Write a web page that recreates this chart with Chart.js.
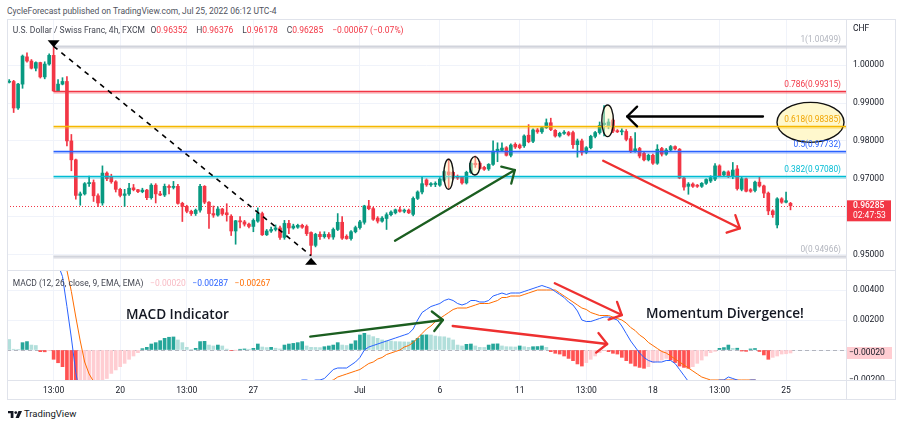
<!DOCTYPE html>
<html><head><meta charset="utf-8">
<script src="https://cdn.jsdelivr.net/npm/chart.js@4.4.1/dist/chart.umd.min.js"></script>
<style>
html,body{margin:0;padding:0;background:#fff;}
body{width:904px;height:426px;position:relative;overflow:hidden;font-family:Roboto,"Noto Sans",sans-serif;color:#131722;}
.abs{position:absolute;white-space:nowrap;line-height:1;}
.ui{font-size:8.5px;}
.r{color:#f23645;}
.g{margin-left:5.5px;}
.g2{margin-left:9px;}
.g3{margin-left:6.5px;}
.ln{position:absolute;background:#e0e3eb;}
canvas{position:absolute;}
.note{position:absolute;white-space:nowrap;font-family:"Open Sans",sans-serif;font-size:13.6px;font-weight:600;line-height:18px;color:#131722;}
</style></head>
<body>
<canvas id="main" width="889" height="251" style="left:7px;top:19px;width:889px;height:251px"></canvas>
<canvas id="macd" width="889" height="129" style="left:7px;top:271px;width:889px;height:129px"></canvas>

<div class="abs ui" style="left:7px;top:6.5px;color:#50535e">CycleForecast published on TradingView.com, Jul 25, 2022 06:12 UTC-4</div>
<div class="abs ui" style="left:12.7px;top:25.5px;color:#434651">U.S. Dollar / Swiss Franc, 4h, FXCM<span class="g">O</span><span class="r">0.96352</span><span class="g2">H</span><span class="r">0.96376</span><span class="g2">L</span><span class="r">0.96178</span><span class="g2">C</span><span class="r">0.96285</span><span class="g2 r">−0.00067 (−0.07%)</span></div>
<div class="abs ui" style="left:853px;top:23.5px">CHF</div>

<div class="abs ui" style="left:12.7px;top:278.5px;color:#434651">MACD (12, 26, close, 9, EMA, EMA)<span class="g3" style="color:#f8bbc4">−0.00020</span><span class="g3" style="color:#2962ff">−0.00287</span><span class="g3" style="color:#ff6d00">−0.00267</span></div>

<div class="note" style="left:126px;top:305px">MACD Indicator</div>
<div class="note" style="left:646px;top:303.5px">Momentum Divergence!</div>

<div class="ln" style="left:7px;top:19px;width:889px;height:1px"></div>
<div class="ln" style="left:7px;top:19px;width:1px;height:381px"></div>
<div class="ln" style="left:895px;top:19px;width:1px;height:381px"></div>
<div class="ln" style="left:7px;top:399px;width:889px;height:1px"></div>
<div class="ln" style="left:846px;top:19px;width:1px;height:381px"></div>
<div class="ln" style="left:7px;top:270px;width:889px;height:1px"></div>
<div class="ln" style="left:7px;top:380px;width:889px;height:1px"></div>

<svg width="14" height="7" viewBox="0 0 36 18" style="position:absolute;left:7.5px;top:410.5px"><path d="M14 0H0v6h7v12h7z" fill="#131722"/><circle cx="20" cy="4" r="3.6" fill="#131722"/><path d="M27 0h9l-8 18h-8.5z" fill="#131722"/></svg>
<div class="abs" style="left:24px;top:409px;font-size:9.5px;color:#131722">TradingView</div>

<script>
// ---------------- DATA ----------------
const slotCount = 189;
const xTickIndex  = [10, 25, 40, 55, 79, 97, 115, 130, 145, 160, 175];
const xTickLabels = ['13:00','20','13:00','27','Jul','6','11','13:00','18','13:00','25'];

const opens = [0.9955,0.9957,0.9887,0.9950,1.0022,1.0011,0.9992,1.0007,0.9969,1.0003,
 1.0026,0.9932,0.9950,0.9957,0.9800,0.9750,0.9656,0.9660,0.9687,0.9690,
 0.9655,0.9636,0.9715,0.9705,0.9692,0.9672,0.9656,0.9660,0.9676,0.9671,
 0.9666,0.9670,0.9650,0.9683,0.9660,0.9657,0.9680,0.9677,0.9680,0.9635,
 0.9627,0.9614,0.9608,0.9617,0.9680,0.9638,0.9608,0.9604,0.9620,0.9610,
 0.9601,0.9562,0.9589,0.9586,0.9580,0.9574,0.9588,0.9608,0.9552,0.9562,
 0.9566,0.9570,0.9545,0.9582,0.9570,0.9572,0.9577,0.9574,0.9558,0.9524,
 0.9553,0.9547,0.9553,0.9546,0.9566,0.9585,0.9548,0.9542,0.9560,0.9571,
 0.9585,0.9628,0.9621,0.9596,0.9588,0.9595,0.9605,0.9610,0.9618,0.9614,
 0.9617,0.9606,0.9648,0.9665,0.9697,0.9684,0.9685,0.9683,0.9696,0.9718,
 0.9717,0.9706,0.9704,0.9689,0.9717,0.9741,0.9741,0.9730,0.9726,0.9738,
 0.9773,0.9775,0.9782,0.9762,0.9791,0.9789,0.9787,0.9815,0.9799,0.9829,
 0.9824,0.9835,0.9848,0.9828,0.9813,0.9820,0.9822,0.9822,0.9790,0.9800,
 0.9770,0.9782,0.9812,0.9822,0.9843,0.9840,0.9855,0.9827,0.9824,0.9825,
 0.9806,0.9774,0.9780,0.9767,0.9750,0.9762,0.9741,0.9780,0.9765,0.9776,
 0.9785,0.9778,0.9702,0.9680,0.9686,0.9683,0.9680,0.9688,0.9694,0.9699,
 0.9734,0.9710,0.9718,0.9706,0.9726,0.9672,0.9700,0.9671,0.9669,0.9691,
 0.9681,0.9662,0.9615,0.9578,0.9647,0.9638,0.96352];
const highs = [0.9962,0.9960,0.9952,1.0027,1.0033,1.0015,1.0009,1.0008,1.0009,1.0030,
 1.00499,0.9962,0.9967,0.9970,0.9817,0.9752,0.9665,0.9690,0.9707,0.9697,
 0.9660,0.9734,0.9718,0.9712,0.9695,0.9675,0.9672,0.9688,0.9685,0.9672,
 0.9675,0.9672,0.9687,0.9687,0.9667,0.9686,0.9684,0.9693,0.9685,0.9638,
 0.9630,0.9617,0.9620,0.9685,0.9682,0.9640,0.9628,0.9626,0.9622,0.9634,
 0.9605,0.9590,0.9600,0.9590,0.9583,0.9594,0.9623,0.9612,0.9566,0.9572,
 0.9578,0.9575,0.9590,0.9590,0.9580,0.9580,0.9580,0.9578,0.9560,0.9556,
 0.9560,0.9560,0.9558,0.9570,0.9608,0.9600,0.9552,0.9563,0.9575,0.9590,
 0.9630,0.9643,0.9625,0.9600,0.9600,0.9610,0.9615,0.9620,0.9625,0.9620,
 0.9620,0.9652,0.9668,0.9704,0.9700,0.9690,0.9692,0.9703,0.9723,0.9752,
 0.9720,0.9710,0.9706,0.9720,0.9744,0.9760,0.9745,0.9733,0.9740,0.9800,
 0.9795,0.9795,0.9785,0.9792,0.9795,0.9792,0.9816,0.9843,0.9832,0.9833,
 0.9838,0.9858,0.9860,0.9830,0.9823,0.9827,0.9825,0.9826,0.9805,0.9805,
 0.9785,0.9815,0.9825,0.9850,0.9893,0.9858,0.9858,0.9830,0.9832,0.9830,
 0.9812,0.9822,0.9783,0.9770,0.9765,0.9765,0.9790,0.9783,0.9780,0.9788,
 0.9787,0.9780,0.9705,0.9690,0.9689,0.9685,0.9690,0.9700,0.9708,0.9740,
 0.9737,0.9720,0.9721,0.9743,0.9735,0.9705,0.9702,0.9674,0.9694,0.9704,
 0.9683,0.9665,0.9618,0.9650,0.9650,0.9665,0.96376];
const lows = [0.9953,0.9875,0.9883,0.9939,1.0008,0.9990,0.9985,0.9966,0.9964,1.0000,
 0.9931,0.9930,0.9948,0.9787,0.9721,0.9646,0.9630,0.9657,0.9680,0.9640,
 0.9626,0.9630,0.9695,0.9688,0.9665,0.9652,0.9627,0.9656,0.9668,0.9663,
 0.9663,0.9645,0.9646,0.9636,0.9655,0.9653,0.9660,0.9673,0.9633,0.9587,
 0.9610,0.9603,0.9603,0.9612,0.9634,0.9569,0.9598,0.9601,0.9603,0.9588,
 0.9550,0.9527,0.9570,0.9575,0.9570,0.9560,0.9585,0.9550,0.9550,0.9558,
 0.9562,0.9540,0.9540,0.9555,0.9567,0.9569,0.9569,0.9550,0.94966,0.9520,
 0.9540,0.9543,0.9541,0.9540,0.9563,0.9540,0.9540,0.9538,0.9557,0.9567,
 0.9580,0.9618,0.9590,0.9583,0.9585,0.9566,0.9602,0.9607,0.9612,0.9610,
 0.9608,0.9602,0.9645,0.9660,0.9680,0.9680,0.9679,0.9680,0.9692,0.9675,
 0.9698,0.9698,0.9686,0.9686,0.9714,0.9730,0.9725,0.9722,0.9722,0.9735,
 0.9745,0.9772,0.9760,0.9758,0.9780,0.9779,0.9783,0.9795,0.9795,0.9820,
 0.9820,0.9833,0.9827,0.9810,0.9810,0.9817,0.9813,0.9780,0.9757,0.9762,
 0.9766,0.9779,0.9808,0.9818,0.9813,0.9832,0.9822,0.9822,0.9816,0.9800,
 0.9769,0.9770,0.9755,0.9747,0.9747,0.9738,0.9738,0.9760,0.9762,0.9772,
 0.9776,0.9700,0.9670,0.9659,0.9677,0.9677,0.9677,0.9685,0.9690,0.9695,
 0.9705,0.9706,0.9703,0.9700,0.9670,0.9668,0.9665,0.9664,0.9665,0.9678,
 0.9650,0.9605,0.9598,0.9570,0.9635,0.9636,0.96178];
const closes = [0.9957,0.9887,0.9950,1.0024,1.0011,0.9992,1.0007,0.9969,1.0003,1.0026,
 0.9932,0.9950,0.9957,0.9800,0.9750,0.9656,0.9660,0.9687,0.9690,0.9655,
 0.9636,0.9715,0.9700,0.9692,0.9672,0.9656,0.9660,0.9675,0.9671,0.9666,
 0.9670,0.9650,0.9683,0.9660,0.9657,0.9680,0.9677,0.9680,0.9635,0.9627,
 0.9614,0.9608,0.9617,0.9680,0.9638,0.9608,0.9604,0.9620,0.9607,0.9605,
 0.9562,0.9589,0.9586,0.9580,0.9574,0.9590,0.9608,0.9552,0.9562,0.9566,
 0.9570,0.9545,0.9582,0.9570,0.9575,0.9577,0.9572,0.9555,0.9524,0.9553,
 0.9547,0.9553,0.9546,0.9566,0.9585,0.9543,0.9542,0.9560,0.9571,0.9586,
 0.9628,0.9621,0.9593,0.9588,0.9596,0.9605,0.9612,0.9618,0.9614,0.9617,
 0.9610,0.9648,0.9665,0.9687,0.9684,0.9687,0.9688,0.9699,0.9719,0.9711,
 0.9702,0.9702,0.9689,0.9717,0.9741,0.9737,0.9727,0.9725,0.9738,0.9773,
 0.9778,0.9781,0.9762,0.9789,0.9784,0.9782,0.9813,0.9798,0.9829,0.9824,
 0.9835,0.9848,0.9830,0.9813,0.9820,0.9823,0.9816,0.9790,0.9800,0.9770,
 0.9782,0.9812,0.9822,0.9841,0.9847,0.9850,0.9826,0.9824,0.9826,0.9804,
 0.9774,0.9779,0.9760,0.9750,0.9762,0.9741,0.9778,0.9765,0.9776,0.9785,
 0.9779,0.9702,0.9678,0.9686,0.9680,0.9680,0.9688,0.9698,0.9703,0.9734,
 0.9708,0.9718,0.9706,0.9723,0.9674,0.9700,0.9667,0.9667,0.9691,0.9681,
 0.9662,0.9615,0.9605,0.9647,0.9638,0.9642,0.96285];

const histogram = [0.00070,0.00005,0.00004,0.00049,0.00056,0.00033,0.00030,-0.00011,-0.00012,-0.00005,
 -0.00062,-0.00085,-0.00111,-0.0022,-0.0030,-0.0034,-0.0033,-0.0031,-0.0028,-0.0025,
 -0.0022,-0.0020,-0.0019,-0.00156,-0.00133,-0.00111,-0.00089,-0.00062,-0.0004,-0.00018,
 0.00009,0.00018,0.0004,0.00049,0.00062,0.00078,0.00085,0.00087,0.00067,0.00049,
 0.00018,0.00004,0.00011,0.00056,0.00058,0.00033,0.00027,0.00033,0.00027,0.00006,
 -0.00004,-0.00001,0.00005,0.00007,0.00005,0.00011,0.0004,0.0002,0.00016,0.00018,
 0.00012,0.00007,0.00033,0.0004,0.00044,0.00049,0.00056,0.00027,0.00018,0.00017,
 0.00016,0.00022,0.00027,0.00033,0.00049,0.00033,0.0003,0.0004,0.00062,0.001,
 0.00111,0.001,0.00089,0.00078,0.00067,0.00062,0.0006,0.00056,0.00055,0.00054,
 0.00053,0.00062,0.00078,0.001,0.00101,0.001,0.00093,0.00089,0.00088,0.0008,
 0.00067,0.00033,0.00027,0.00038,0.0004,0.00027,0.00018,0.00017,0.00033,0.0004,
 0.00041,0.00027,0.00022,0.00021,0.0002,0.00027,0.00022,0.00018,0.00022,0.00023,
 0.00027,0.00018,-0.00011,-0.00022,-0.00027,-0.0004,-0.00056,-0.00071,-0.00093,-0.00107,
 -0.00084,-0.00062,-0.0004,-0.00018,-0.00004,-0.00011,-0.00022,-0.00027,-0.00049,-0.00071,
 -0.00089,-0.00107,-0.00116,-0.00122,-0.00111,-0.00084,-0.00078,-0.00067,-0.00056,-0.00067,
 -0.00084,-0.00107,-0.00116,-0.00122,-0.00111,-0.00089,-0.00067,-0.0004,-0.00018,-0.00009,
 0.00011,0.00016,0.00033,0.00011,0.00012,-0.00007,-0.00009,0.00007,0.0001,-0.0001,
 -0.00033,-0.00062,-0.00049,-0.0004,-0.00027,-0.00025,-0.0002];
const macdLine = [0.0075,0.0071,0.0070,0.0074,0.0076,0.0074,0.0073,0.0068,0.0067,0.0069,
 0.0063,0.0057,0.0049,0.0029,0.0008,-0.0015,-0.0031,-0.0042,-0.0050,-0.0057,
 -0.0063,-0.0066,-0.0069,-0.0069,-0.0069,-0.0069,-0.0068,-0.0066,-0.0064,-0.0062,
 -0.0059,-0.0057,-0.0053,-0.0050,-0.0047,-0.0044,-0.0042,-0.0040,-0.0040,-0.0041,
 -0.0043,-0.0044,-0.0043,-0.0038,-0.0037,-0.0038,-0.0038,-0.0036,-0.0036,-0.0037,
 -0.0040,-0.0040,-0.0039,-0.0039,-0.0039,-0.0038,-0.0035,-0.0036,-0.0036,-0.0035,
 -0.0030,-0.0028,-0.0025,-0.0023,-0.0022,-0.0021,-0.0020,-0.0020,-0.0021,-0.0020,
 -0.0020,-0.0019,-0.0016,-0.0013,-0.0012,-0.0012,-0.0012,-0.0010,-0.0008,-0.0005,
 0.0000,0.0002,0.0003,0.0004,0.0005,0.0006,0.0007,0.0008,0.0009,0.0010,
 0.0011,0.0014,0.0020,0.0025,0.0027,0.0029,0.0030,0.0031,0.0033,0.0034,
 0.0033,0.0031,0.0030,0.0031,0.0033,0.0033,0.0032,0.0032,0.0033,0.0036,
 0.0037,0.0038,0.0037,0.0038,0.0038,0.0038,0.0039,0.0040,0.0041,0.0042,
 0.0043,0.0042,0.0041,0.0039,0.0037,0.0035,0.0032,0.0030,0.0026,0.0020,
 0.0019,0.0019,0.0020,0.0021,0.0022,0.0022,0.0021,0.0020,0.0016,0.0011,
 0.0006,0.0002,-0.0002,-0.0005,-0.0007,-0.0008,-0.0008,-0.0008,-0.0007,-0.0007,
 -0.0009,-0.0013,-0.0017,-0.0021,-0.0025,-0.0025,-0.0024,-0.0023,-0.0022,-0.0021,
 -0.0020,-0.0020,-0.0018,-0.0019,-0.0020,-0.0021,-0.0021,-0.0020,-0.0020,-0.0021,
 -0.0023,-0.0027,-0.0029,-0.0029,-0.0029,-0.0029,-0.00287];
const signalLine = [0.0068,0.0068,0.0069,0.0069,0.0070,0.0071,0.0070,0.0069,0.0069,0.0068,
 0.0067,0.0064,0.0060,0.0053,0.0039,0.0022,0.0006,-0.0008,-0.0016,-0.0021,
 -0.0030,-0.0037,-0.0044,-0.0050,-0.0054,-0.0057,-0.0059,-0.0060,-0.0060,-0.0060,
 -0.0060,-0.0059,-0.0057,-0.0055,-0.0053,-0.0052,-0.0050,-0.0049,-0.0047,-0.0046,
 -0.0045,-0.0044,-0.0044,-0.0043,-0.0042,-0.0041,-0.0040,-0.0039,-0.0039,-0.0038,
 -0.0040,-0.0040,-0.0039,-0.0039,-0.0039,-0.0039,-0.0039,-0.0038,-0.0038,-0.0037,
 -0.0036,-0.0036,-0.0036,-0.0036,-0.0035,-0.0034,-0.0033,-0.0030,-0.0028,-0.0027,
 -0.0025,-0.0024,-0.0021,-0.0020,-0.0018,-0.0017,-0.0016,-0.0015,-0.0014,-0.0013,
 -0.0011,-0.0009,-0.0008,-0.0006,-0.0005,-0.0003,-0.0002,-0.0001,0.0000,0.0002,
 0.0003,0.0005,0.0008,0.0011,0.0014,0.0016,0.0019,0.0021,0.0023,0.0025,
 0.0027,0.0028,0.0028,0.0028,0.0029,0.0030,0.0031,0.0031,0.0031,0.0032,
 0.0033,0.0035,0.0035,0.0036,0.0036,0.0036,0.0037,0.0038,0.0039,0.0040,
 0.0040,0.0040,0.0040,0.0040,0.0038,0.0036,0.0034,0.0032,0.0030,0.0028,
 0.0027,0.0025,0.0024,0.0023,0.0023,0.0023,0.0022,0.0021,0.0020,0.0018,
 0.0015,0.0013,0.0010,0.0008,0.0005,0.0003,0.0001,-0.0001,-0.0002,-0.0004,
 -0.0006,-0.0008,-0.0010,-0.0012,-0.0014,-0.0016,-0.0018,-0.0019,-0.0020,-0.0020,
 -0.0020,-0.0020,-0.0020,-0.0020,-0.0020,-0.0020,-0.0020,-0.0020,-0.0020,-0.0021,
 -0.0022,-0.0023,-0.0024,-0.0025,-0.0026,-0.00265,-0.00267];

const priceTicks = [0.95, 0.96, 0.97, 0.98, 0.99, 1.00];
const macdTicks = [-0.002, 0, 0.002, 0.004];
const lastPrice = 0.96285;
const fibStartIndex = 10;
const fibLevels = ['1', '0.786', '0.618', '0.5', '0.382', '0'];
const fibPrices = [1.00499, 0.99315, 0.98385, 0.97732, 0.97080, 0.94966];
</script>
<script>
// ---------------- STYLE / RENDER ----------------
Chart.defaults.font.family = 'Roboto';
const UP = '#089981', DN = '#f23645';
const fibColors = ['#b2b5be', '#f23645', '#f5b800', '#2962ff', '#00bcd4', '#b2b5be'];
const fibTextColors = ['#b2b5be', '#f23645', '#f0a400', '#2962ff', '#00bcd4', '#b2b5be'];
const slotLabels = Array.from({length: slotCount}, (_, i) => { const k = xTickIndex.indexOf(i); return k >= 0 ? xTickLabels[k] : ''; });
const candleColors = opens.map((o, i) => closes[i] >= o ? UP : DN);
const histColors = histogram.map((v, i) => { const p = i > 0 ? histogram[i-1] : Infinity;
  return v >= 0 ? (v >= p ? '#26a69a' : '#b2dfdb') : (v < p ? '#ff5252' : '#ffcdd2'); });
const gridX = (c) => slotLabels[c.index] ? '#f0f3fa' : 'rgba(0,0,0,0)';
const fmtMinus = (s) => s.replace('-', '\u2212');

const mainArrows = [
  {a:[86.9, 0.95363], b:[113.9, 0.97231], color:'#1b5e20'},
  {a:[133.8, 0.97477], b:[164.6, 0.95691], color:'#ee3030'},
  {a:[169.8, 0.98645], b:[139.2, 0.98645], color:'#000000'}
];
const mainEllipses = [
  {c:[98.96, 0.97118], rx:4.7, ry:15},
  {c:[104.9, 0.97342], rx:5, ry:9.2},
  {c:[134.8, 0.98531], rx:5.8, ry:15.8}
];
const macdArrows = [
  {a:[67.8, 0.000887], b:[97.7, 0.0020], color:'#1b5e20'},
  {a:[99.9, 0.0016], b:[134.7, 0.0004], color:'#ee3030'},
  {a:[122.9, 0.00445], b:[138.0, 0.00233], color:'#ee3030'}
];

function arrow(ctx, x1, y1, x2, y2, color, w) {
  ctx.save(); ctx.strokeStyle = color; ctx.lineWidth = w; ctx.lineCap = 'round'; ctx.lineJoin = 'round';
  ctx.beginPath(); ctx.moveTo(x1, y1); ctx.lineTo(x2, y2); ctx.stroke();
  const a = Math.atan2(y2 - y1, x2 - x1), L = 14, h = 0.78;
  ctx.beginPath();
  ctx.moveTo(x2 - L * Math.cos(a - h), y2 - L * Math.sin(a - h));
  ctx.lineTo(x2, y2);
  ctx.lineTo(x2 - L * Math.cos(a + h), y2 - L * Math.sin(a + h));
  ctx.stroke(); ctx.restore();
}
function ellipse(ctx, x, y, rx, ry, fill) {
  ctx.save(); ctx.beginPath(); ctx.ellipse(x, y, rx, ry, 0, 0, Math.PI * 2);
  ctx.fillStyle = fill; ctx.fill(); ctx.strokeStyle = '#111'; ctx.lineWidth = 1.4; ctx.stroke(); ctx.restore();
}

const mainOverlay = {
  id: 'mainOverlay',
  beforeDatasetsDraw(chart) {
    const {ctx, chartArea: ca, scales: {y}} = chart;
    const py = Math.round(y.getPixelForValue(lastPrice)) + 0.5;
    ctx.save(); ctx.strokeStyle = DN; ctx.lineWidth = 1; ctx.setLineDash([1, 2]);
    ctx.beginPath(); ctx.moveTo(ca.left, py); ctx.lineTo(ca.right, py); ctx.stroke(); ctx.restore();
  },
  afterDatasetsDraw(chart) {
    const {ctx, chartArea: ca, scales: {x, y}} = chart;
    const X = (i) => x.getPixelForValue(i), Y = (v) => y.getPixelForValue(v);
    const yl = Y(fibPrices[2]);
    ellipse(ctx, ca.right - 35.5, yl - 4, 33.5, 20, 'rgba(255,247,196,0.85)');
    const x0 = X(fibStartIndex);
    fibPrices.forEach((p, k) => {
      const yy = Math.round(Y(p)) + 0.5;
      ctx.save();
      ctx.globalAlpha = 0.25; ctx.strokeStyle = fibColors[k]; ctx.lineWidth = 3;
      ctx.beginPath(); ctx.moveTo(x0, yy + 1); ctx.lineTo(ca.right, yy + 1); ctx.stroke();
      ctx.globalAlpha = 1; ctx.lineWidth = (k === 0 || k === 5) ? 2 : 1.3;
      ctx.strokeStyle = (k === 0 || k === 5) ? '#d1d4dc' : fibColors[k];
      ctx.beginPath(); ctx.moveTo(x0, yy); ctx.lineTo(ca.right, yy); ctx.stroke();
      ctx.fillStyle = fibTextColors[k]; ctx.font = '8.3px Roboto'; ctx.textAlign = 'right'; ctx.textBaseline = 'middle';
      ctx.fillText(fibLevels[k] + '(' + p.toFixed(5) + ')', ca.right - 5, yy - 7);
      ctx.restore();
    });
    ctx.save(); ctx.strokeStyle = '#000'; ctx.lineWidth = 1.6; ctx.setLineDash([5, 5]);
    ctx.beginPath(); ctx.moveTo(X(fibStartIndex), Y(fibPrices[0])); ctx.lineTo(X(68), Y(fibPrices[5])); ctx.stroke(); ctx.restore();
    ctx.save(); ctx.fillStyle = '#000';
    let tx = X(fibStartIndex), ty = Y(fibPrices[0]) + 1;
    ctx.beginPath(); ctx.moveTo(tx, ty); ctx.lineTo(tx - 6, ty - 7); ctx.lineTo(tx + 6, ty - 7); ctx.closePath(); ctx.fill();
    tx = X(68); ty = Y(fibPrices[5]) + 2;
    ctx.beginPath(); ctx.moveTo(tx, ty); ctx.lineTo(tx - 6, ty + 7); ctx.lineTo(tx + 6, ty + 7); ctx.closePath(); ctx.fill();
    ctx.restore();
    mainEllipses.forEach(e => ellipse(ctx, X(e.c[0]), Y(e.c[1]), e.rx, e.ry, 'rgba(255,249,196,0.45)'));
    mainArrows.forEach(a => arrow(ctx, X(a.a[0]), Y(a.a[1]), X(a.b[0]), Y(a.b[1]), a.color, 2.3));
  },
  afterDraw(chart) {
    const {ctx, chartArea: ca, scales: {y}} = chart;
    const py = y.getPixelForValue(lastPrice);
    ctx.save(); ctx.fillStyle = DN;
    ctx.fillRect(ca.right, py - 5.5, 45, 21);
    ctx.fillStyle = '#fff'; ctx.font = '500 8.5px Roboto'; ctx.textAlign = 'left'; ctx.textBaseline = 'middle';
    ctx.fillText(lastPrice.toFixed(5), ca.right + 7, py);
    ctx.font = '8.5px Roboto'; ctx.fillText('02:47:53', ca.right + 7, py + 10);
    ctx.restore();
  }
};

const macdOverlay = {
  id: 'macdOverlay',
  beforeDatasetsDraw(chart) {
    const {ctx, chartArea: ca, scales: {y}} = chart;
    const zy = Math.round(y.getPixelForValue(0)) + 0.5;
    ctx.save(); ctx.strokeStyle = '#b2b5be'; ctx.lineWidth = 1; ctx.setLineDash([4, 3]);
    ctx.beginPath(); ctx.moveTo(ca.left, zy); ctx.lineTo(ca.right, zy); ctx.stroke(); ctx.restore();
  },
  afterDatasetsDraw(chart) {
    const {ctx, scales: {x, y}} = chart;
    const X = (i) => x.getPixelForValue(i), Y = (v) => y.getPixelForValue(v);
    macdArrows.forEach(a => arrow(ctx, X(a.a[0]), Y(a.a[1]), X(a.b[0]), Y(a.b[1]), a.color, 2.3));
  },
  afterDraw(chart) {
    const {ctx, chartArea: ca, scales: {y}} = chart;
    const hv = histogram[histogram.length - 1];
    const py = y.getPixelForValue(hv);
    ctx.save();
    ctx.fillStyle = '#ffcdd2'; ctx.fillRect(ca.right, py - 6, 46, 12);
    ctx.fillStyle = '#131722'; ctx.font = '8.5px Roboto'; ctx.textAlign = 'left'; ctx.textBaseline = 'middle';
    ctx.fillText(fmtMinus(hv.toFixed(5)), ca.right + 3, py);
    ctx.beginPath(); ctx.rect(ca.right, 0, 50, ca.bottom); ctx.clip();
    ctx.fillText(fmtMinus((-0.002).toFixed(5)), ca.right + 3, y.getPixelForValue(-0.002));
    ctx.restore();
  }
};

const tickFont = {size: 8.5, family: 'Roboto'};

new Chart(document.getElementById('main'), {
  type: 'bar',
  data: { labels: slotLabels, datasets: [
    {label: 'body', data: opens.map((o, i) => [o, closes[i]]), backgroundColor: candleColors, barThickness: 3, grouped: false, minBarLength: 1, order: 1},
    {label: 'wick', data: lows.map((l, i) => [l, highs[i]]), backgroundColor: candleColors, barThickness: 1, grouped: false, order: 2}
  ]},
  options: {
    responsive: false, animation: false, devicePixelRatio: 1,
    layout: {padding: 0},
    plugins: {legend: {display: false}, tooltip: {enabled: false}},
    scales: {
      x: {type: 'category', offset: true, grid: {offset: false, color: gridX, drawTicks: false}, border: {display: false},
          ticks: {display: false}, afterFit(s) { s.height = 0; s.paddingLeft = 0; s.paddingRight = 0; }},
      y: {position: 'right', min: 1 - (270 - 65.2) / 3785, max: 1 + (65.2 - 19) / 3785,
          grid: {color: '#f0f3fa', drawTicks: false}, border: {display: false},
          ticks: {padding: 7, font: tickFont, color: '#131722', callback: (v) => Math.abs(v - 0.96) < 1e-9 ? '' : v.toFixed(5)},
          afterBuildTicks(s) { s.ticks = priceTicks.map(v => ({value: v})); },
          afterFit(s) { s.width = 50; s.paddingTop = 0; s.paddingBottom = 0; }}
    }
  },
  plugins: [mainOverlay]
});

new Chart(document.getElementById('macd'), {
  type: 'bar',
  data: { labels: slotLabels, datasets: [
    {type: 'line', data: macdLine, borderColor: '#2962ff', borderWidth: 1, pointRadius: 0, order: 1},
    {type: 'line', data: signalLine, borderColor: '#ff6d00', borderWidth: 1, pointRadius: 0, order: 2},
    {type: 'bar', data: histogram, backgroundColor: histColors, barThickness: 3, order: 3}
  ]},
  options: {
    responsive: false, animation: false, devicePixelRatio: 1,
    layout: {padding: 0},
    plugins: {legend: {display: false}, tooltip: {enabled: false}},
    scales: {
      x: {type: 'category', offset: true, grid: {offset: false, color: gridX, drawTicks: false}, border: {display: false},
          ticks: {autoSkip: false, maxRotation: 0, minRotation: 0, padding: 6, font: tickFont, color: '#131722'},
          afterFit(s) { s.height = 20; s.paddingLeft = 0; s.paddingRight = 0; }},
      y: {position: 'right', min: -0.002, max: (350 - 271) / 15000,
          grid: {color: '#f0f3fa', drawTicks: false}, border: {display: false},
          ticks: {padding: 7, font: tickFont, color: '#131722', callback: (v) => v > 0.001 ? v.toFixed(5) : ''},
          afterBuildTicks(s) { s.ticks = macdTicks.map(v => ({value: v})); },
          afterFit(s) { s.width = 50; s.paddingTop = 0; s.paddingBottom = 0; }}
    }
  },
  plugins: [macdOverlay]
});
</script>
</body></html>
